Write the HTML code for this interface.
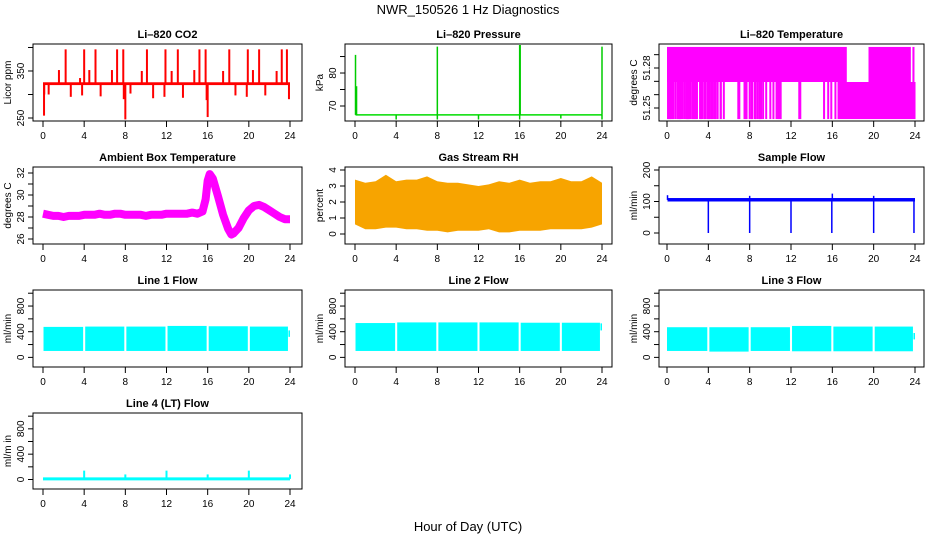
<!DOCTYPE html>
<html><head><meta charset="utf-8">
<style>
html,body{margin:0;padding:0;background:#fff;}
svg{display:block;font-family:"Liberation Sans",Arial,sans-serif;}
.t{font-size:11px;font-weight:bold;text-anchor:middle;}
.tk{font-size:10px;text-anchor:middle;}
</style></head>
<body>
<svg id="fig" width="936" height="540" viewBox="0 0 936 540" xmlns="http://www.w3.org/2000/svg">
<text x="468" y="14" font-size="13" text-anchor="middle">NWR_150526  1 Hz Diagnostics</text>
<text x="468" y="531" font-size="13" text-anchor="middle">Hour of Day (UTC)</text>
</svg>
<script>
// ---- data ----
const xTicks = [0,4,8,12,16,20,24];
const co2Base = [320,326];
const co2Spikes = [[0.1,255],[0.12,300],[0.55,300],[1.55,352],[2.2,396],[2.7,295],[3.6,335],[3.8,298],[4.0,396],[4.5,352],[5.1,396],[5.6,296],[6.7,352],[7.2,396],[7.8,396],[7.85,290],[8.0,247],[8.5,302],[9.6,350],[10.1,396],[10.7,292],[11.8,295],[11.9,396],[12.5,350],[13.1,396],[13.6,293],[14.7,352],[15.2,396],[15.8,396],[15.9,288],[16.0,252],[17.5,350],[18.1,396],[18.7,298],[19.8,295],[19.9,396],[20.4,352],[21.0,396],[21.6,298],[22.7,350],[23.2,396],[23.7,396],[23.9,290]];
const presBase = 67.3;
const presSpikes = [[0.05,85.5],[0.15,76],[8.0,88],[16.0,88.5],[16.05,88.5],[24,88]];
const presDips = [[4.0,65.9],[8.0,65.9],[12.0,65.9],[16.0,65.9],[20.0,66.2],[24,65.9]];
const tempHiBands = [[0,17.4],[19.5,23.6],[23.75,23.95]];
const tempLoBands = [[16.5,24.05],[0.3,0.65],[1.0,1.4],[1.8,2.25],[2.4,2.7],[3.9,4.2],[4.3,4.5],[5.1,5.3],[7.5,7.75],[8.1,8.35],[8.9,9.2],[10.7,11.0]];
const tempLevels = [51.2417,51.2695,51.2958];
const tempDrops = [0.1,0.2,0.3,0.4,0.6,0.8,1.0,1.2,1.3,1.5,1.7,1.9,2.0,2.1,2.3,2.5,2.7,2.8,2.9,3.2,3.3,3.4,3.6,3.7,3.9,4.1,4.3,4.6,4.7,4.9,5.2,5.5,6.9,7.0,7.5,7.7,8.0,8.2,8.5,8.6,8.8,9.0,9.1,9.3,9.6,10.0,10.3,10.6,10.8,11.0,12.8,12.9,15.2,15.6,15.9,16.3];
const ambHours = [0,0.5,1,1.5,2,2.5,3,3.5,4,4.5,5,5.5,6,6.5,7,7.5,8,8.5,9,9.5,10,10.5,11,11.5,12,12.5,13,13.5,14,14.5,15,15.5,15.8,16,16.2,16.5,17,17.5,18,18.3,18.5,19,19.5,20,20.5,21,21.5,22,22.5,23,23.5,24];
const ambVals = [28.3,28.2,28.1,28.1,28.0,28.1,28.1,28.1,28.2,28.2,28.2,28.3,28.2,28.2,28.3,28.3,28.2,28.2,28.2,28.2,28.1,28.2,28.2,28.2,28.3,28.3,28.3,28.3,28.3,28.4,28.3,28.5,29.6,31.3,31.9,31.5,29.9,28.2,26.9,26.4,26.5,27.0,27.9,28.6,29.0,29.1,28.9,28.6,28.3,28.0,27.8,27.8];
const rhHours = [0,1,2,3,4,5,6,7,8,9,10,11,12,13,14,15,16,17,18,19,20,21,22,23,24];
const rhHi = [3.4,3.2,3.3,3.7,3.3,3.4,3.4,3.6,3.3,3.2,3.2,3.1,3.0,3.1,3.3,3.2,3.4,3.2,3.3,3.3,3.5,3.3,3.3,3.6,3.2];
const rhLo = [0.6,0.3,0.3,0.4,0.4,0.3,0.3,0.2,0.2,0.1,0.2,0.2,0.2,0.3,0.1,0.1,0.2,0.2,0.2,0.3,0.3,0.3,0.3,0.4,0.6];
const sampBase = [100,111];
const sampDrops = [[4.0,0],[8.0,0],[12.0,0],[15.95,0],[20.0,0],[23.9,0]];
const sampUp = [[0.05,120],[16.0,125],[20.0,118],[8.0,118]];
const line1Blocks = [[0.05,3.9,100,475],[4.1,7.9,100,480],[8.1,11.9,100,480],[12.1,15.9,100,490],[16.1,19.9,100,485],[20.1,23.8,100,480],[23.85,24,320,420]];
const line2Blocks = [[0.05,3.9,100,535],[4.1,7.9,100,545],[8.1,11.9,100,545],[12.1,15.9,100,545],[16.1,19.9,100,540],[20.1,23.8,100,540],[23.85,24,420,530]];
const line3Blocks = [[0.0,3.9,100,470],[4.1,7.9,90,470],[8.1,11.9,100,470],[12.1,15.9,95,490],[16.1,19.9,95,480],[20.1,23.8,95,480],[23.85,24,280,380]];
const line4Base = 10;
const line4Spikes = [[4,140],[8,80],[12,140],[16,80],[20,140],[24,80]];

// ---- layout ----
const colBox = [[33,302],[345,612],[659,924]];
const colX = [[43,290],[355,602],[667,915]];
const rowBox = [[44,121],[167,244],[290,367],[413,489]];
const NS = 'http://www.w3.org/2000/svg';
const svg = document.getElementById('fig');
function mk(tag, attrs, parent){const e=document.createElementNS(NS,tag);for(const k in attrs)e.setAttribute(k,attrs[k]);(parent||svg).appendChild(e);return e;}

function panel(name,title,ylab,col,row,ymin,ymax,yTicks,yLabels){
  const g=mk('g',{});
  
  
  const [bx0,bx1]=colBox[col],[by0,by1]=rowBox[row],[x0,x1]=colX[col];
  const P={g,x:v=>x0+(x1-x0)*v/24,y:v=>by1-(by1-by0)*(v-ymin)/(ymax-ymin),bx0,bx1,by0,by1};
  const tt=mk('text',{x:(bx0+bx1)/2,y:by0-6,class:'t'},g);tt.textContent=title;
  
  
  const yl=mk('text',{x:0,y:0,'font-size':10,'text-anchor':'middle',transform:`translate(${bx0-22},${(by0+by1)/2}) rotate(-90)`},g);yl.textContent=ylab;
  
  
  yTicks.forEach((v,i)=>{const yy=P.y(v);mk('line',{x1:bx0-5,x2:bx0,y1:yy,y2:yy,stroke:'#000'},g);
    if(yLabels[i]!==''){const t=mk('text',{x:0,y:0,class:'tk',transform:`translate(${bx0-9},${yy}) rotate(-90)`},g);t.textContent=yLabels[i];
    
    }});
  xTicks.forEach(v=>{const xx=P.x(v);mk('line',{x1:xx,x2:xx,y1:by1,y2:by1+6,stroke:'#000'},g);
    const t=mk('text',{x:xx,y:by1+18,class:'tk'},g);t.textContent=v;
    
    });
  P.plot=mk('g',{},g);
  P.finish=()=>{mk('rect',{x:bx0,y:by0,width:bx1-bx0,height:by1-by0,fill:'none',stroke:'#000'},g);};
  return P;
}
function vline(P,h,a,b,color,w){const e=mk('line',{x1:P.x(h),x2:P.x(h),y1:P.y(a),y2:P.y(b),stroke:color,'stroke-width':w||1.5},P.plot);return e;}
function band(P,h0,h1,a,b,color){const ya=P.y(a),yb=P.y(b);return mk('rect',{x:P.x(h0),y:Math.min(ya,yb),width:P.x(h1)-P.x(h0),height:Math.abs(ya-yb),fill:color},P.plot);}

// CO2
let P=panel('co2-panel','Li–820 CO2','Licor ppm',0,0,243.6,407.4,[250,300,350,400],['250','','350','']);
let e=band(P,0,24,co2Base[0],co2Base[1],'#ff0000');

co2Spikes.forEach(s=>{const l=vline(P,s[0],323,s[1],'#ff0000',2);});
P.finish();

// Pressure
P=panel('pressure-panel','Li–820 Pressure','kPa',1,0,65.45,88.8,[70,75,80,85],['70','','80','']);
e=mk('line',{x1:P.x(0.05),x2:P.x(24),y1:P.y(presBase),y2:P.y(presBase),stroke:'#00dd00','stroke-width':1.5},P.plot);

presSpikes.forEach(s=>{const l=vline(P,s[0],presBase,s[1],'#00cc00',1.5);});
presDips.forEach(s=>{const l=vline(P,s[0],presBase,s[1],'#00cc00',1.5);});
P.finish();

// Li-820 temperature
P=panel('li820-temp-panel','Li–820 Temperature','degrees C',2,0,51.24025,51.298,[51.25,51.26,51.27,51.28,51.29],['51.25','','','51.28','']);
tempHiBands.forEach(b=>{const r=band(P,b[0],b[1],tempLevels[1],tempLevels[2],'#ff00ff');});
tempLoBands.forEach(b=>{const r=band(P,b[0],b[1],tempLevels[0],tempLevels[1],'#ff00ff');});
tempDrops.forEach(h=>{const l=vline(P,h,tempLevels[0],tempLevels[1],'#ff00ff',2);});
P.finish();

// Ambient
P=panel('ambient-temp-panel','Ambient Box Temperature','degrees C',0,1,25.545,32.545,[26,27,28,29,30,31,32],['26','','28','','30','','32']);
e=mk('polyline',{points:ambHours.map((h,i)=>P.x(h)+','+P.y(ambVals[i])).join(' '),fill:'none',stroke:'#ff00ff','stroke-width':8,'stroke-linejoin':'round'},P.plot);

P.finish();

// RH
P=panel('rh-panel','Gas Stream RH','percent',1,1,-0.625,4.1875,[0,1,2,3,4],['0','1','2','3','4']);
const rhPts=rhHours.map((h,i)=>P.x(h)+','+P.y(rhHi[i])).concat(rhHours.slice().reverse().map((h,i)=>P.x(h)+','+P.y(rhLo[rhHours.length-1-i])));
e=mk('polygon',{points:rhPts.join(' '),fill:'#f7a400'},P.plot);

P.finish();

// Sample flow
P=panel('sample-flow-panel','Sample Flow','ml/min',2,1,-34.9,209.5,[0,50,100,150,200],['0','','100','','200']);
e=band(P,0.05,24,sampBase[0],sampBase[1],'#0000ff');

sampDrops.forEach(s=>{const l=vline(P,s[0],105,s[1],'#0000ff',1.5);});
sampUp.forEach(s=>{const l=vline(P,s[0],105,s[1],'#0000ff',1.5);});
P.finish();

// Line flows
const flowTicks=[0,200,400,600,800,1000], flowLabels=['0','','400','','800',''];
[[line1Blocks,'Line 1 Flow',0,2,'line1'],[line2Blocks,'Line 2 Flow',1,2,'line2'],[line3Blocks,'Line 3 Flow',2,2,'line3']].forEach(c=>{
  const Q=panel(c[4]+'-flow-panel',c[1],'ml/min',c[2],c[3],-150,1050,flowTicks,flowLabels);
  c[0].forEach(b=>{const r=band(Q,b[0],b[1],b[2],b[3],'#00ffff');});
  Q.finish();
});
P=panel('line4-flow-panel','Line 4 (LT) Flow','ml/m in',0,3,-150,1050,flowTicks,flowLabels);
e=mk('line',{x1:P.x(0),x2:P.x(24),y1:P.y(line4Base),y2:P.y(line4Base),stroke:'#00ffff','stroke-width':3},P.plot);

line4Spikes.forEach(s=>{const l=vline(P,s[0],line4Base,s[1],'#00ffff',2);});
P.finish();
</script>
</body></html>
